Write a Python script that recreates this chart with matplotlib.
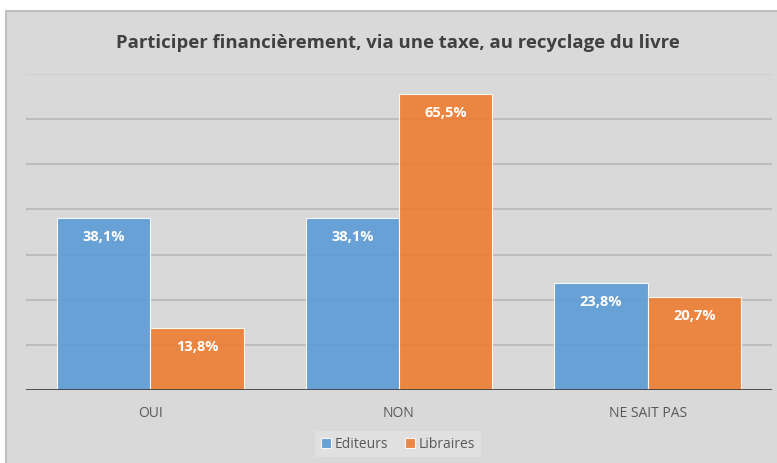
import matplotlib
matplotlib.use('Agg')
import matplotlib.pyplot as plt
from matplotlib.patches import Rectangle
import numpy as np

categories = ['OUI', 'NON', 'NE SAIT PAS']
editeurs = [38.1, 38.1, 23.8]
libraires = [13.8, 65.5, 20.7]
series_names = ['Editeurs', 'Libraires']

blue = '#5b9bd5'
orange = '#ed7d31'
bg = '#d9d9d9'

plt.rcParams['font.family'] = ['Open Sans', 'DejaVu Sans']

fig = plt.figure(figsize=(7.77, 4.64), dpi=100)
fig.patch.set_facecolor('white')
fig.patches.append(Rectangle((6 / 777, -0.01), 1.05, (464 - 12) / 464 + 0.01,
                             transform=fig.transFigure, facecolor=bg,
                             edgecolor='#bfbfbf', linewidth=1.5, zorder=-5))

ax = fig.add_axes([26 / 777, 1 - 391 / 464, 746 / 777, (391 - 75) / 464])
ax.set_facecolor('none')

x = np.arange(len(categories))
w = 0.375
b1 = ax.bar(x - w / 2, editeurs, w, color=blue, alpha=0.9, edgecolor='white',
            linewidth=0.8, zorder=3, label=series_names[0])
b2 = ax.bar(x + w / 2, libraires, w, color=orange, alpha=0.9, edgecolor='white',
            linewidth=0.8, zorder=3, label=series_names[1])

for bars in (b1, b2):
    for r in bars:
        h = r.get_height()
        ax.text(r.get_x() + r.get_width() / 2, h - 4, f'{h:.1f}%'.replace('.', ','),
                ha='center', va='center', color='white', fontsize=10.5,
                fontweight='bold', zorder=4)

ax.set_xlim(-0.5, 2.5)
ax.set_ylim(0, 70)
for y in range(10, 70, 10):
    ax.axhline(y, color='#bdbdbd', linewidth=1.5, zorder=1)
ax.axhline(70, color='#d0d0d0', linewidth=1.5, zorder=1)
ax.axhline(0, color='#404040', linewidth=2, zorder=5)

for s in ax.spines.values():
    s.set_visible(False)
ax.set_yticks([])
ax.set_xticks(x)
ax.set_xticklabels(categories, color='#595959', fontsize=10)
ax.tick_params(axis='x', length=0, pad=11)

fig.text(398 / 777, 1 - 43 / 464, 'Participer financièrement, via une taxe, au recyclage du livre',
         ha='center', va='center', fontsize=13.3, fontweight='bold', color='#404040')

leg = fig.legend(loc='center', bbox_to_anchor=(398 / 777, 1 - 445 / 464), ncol=2,
                 frameon=True, fontsize=10, handlelength=0.7, handleheight=0.7,
                 handletextpad=0.3, columnspacing=1.2, borderpad=0.4)
leg.get_frame().set_facecolor('#e3e3e3')
leg.get_frame().set_edgecolor('none')
leg.get_frame().set_boxstyle('square', pad=0)
for t in leg.get_texts():
    t.set_color('#595959')

fig.savefig('out.png', dpi=100)
